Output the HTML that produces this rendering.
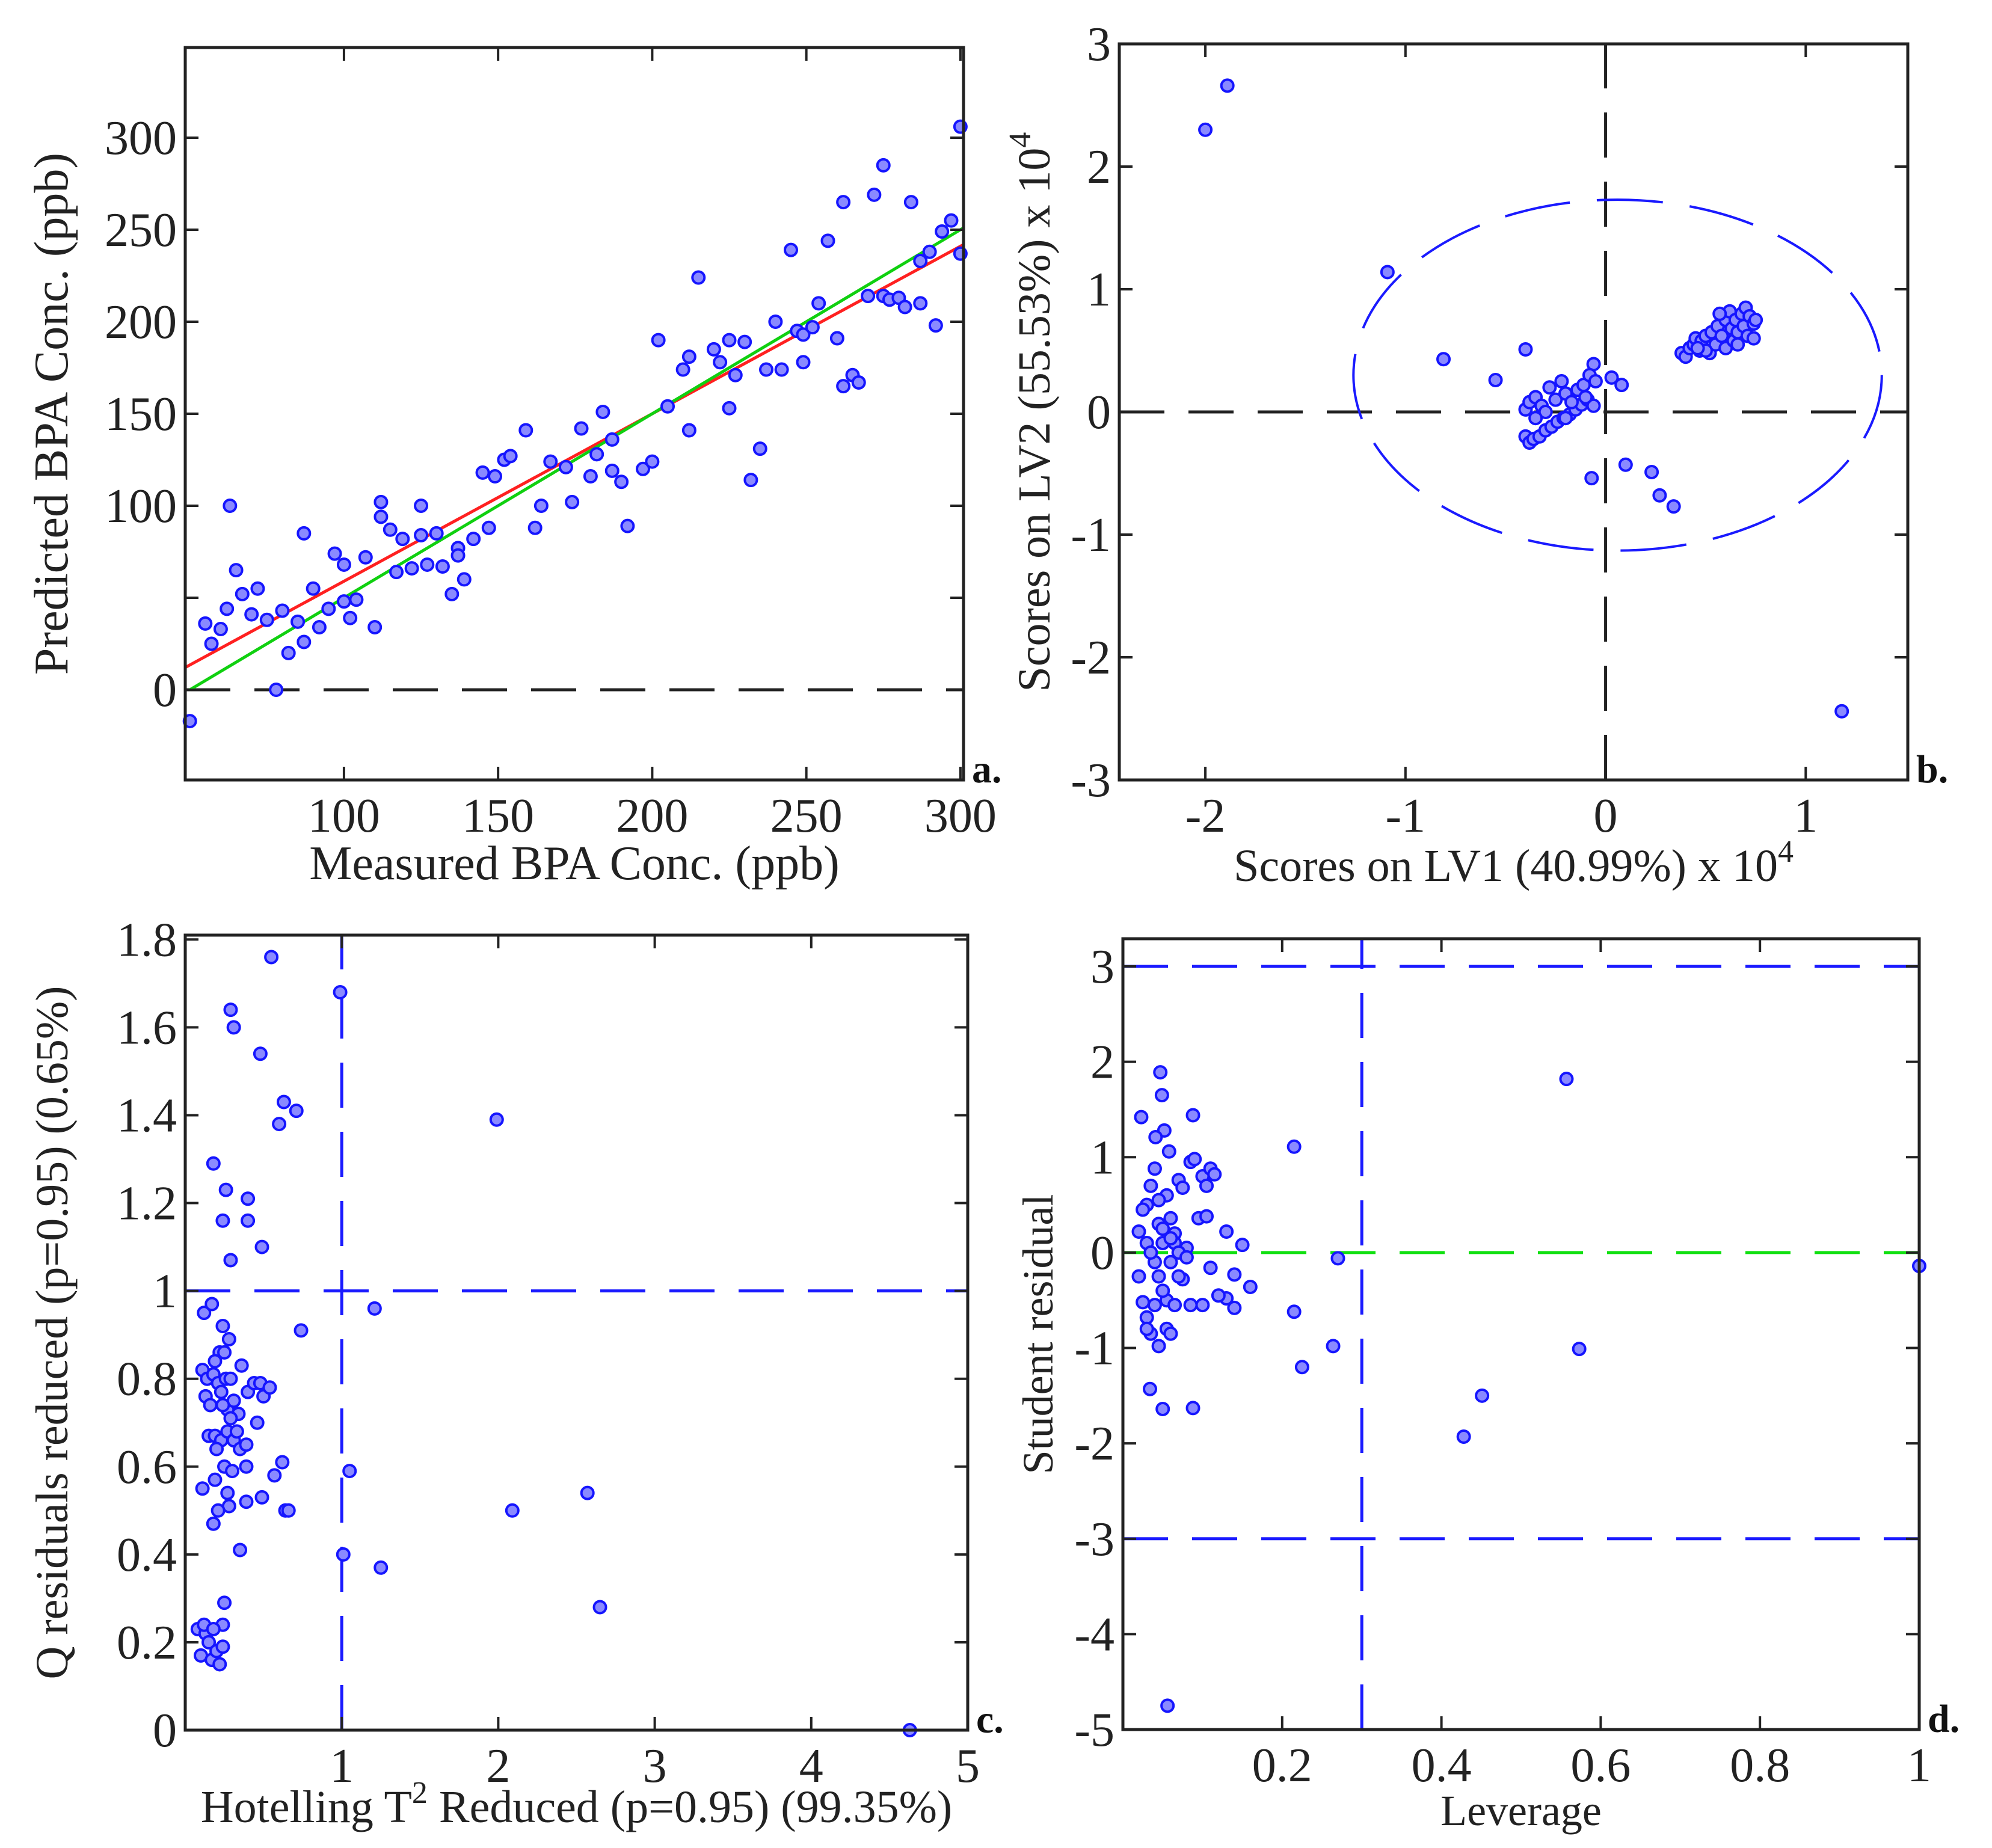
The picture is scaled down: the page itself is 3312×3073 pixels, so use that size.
<!DOCTYPE html>
<html><head><meta charset="utf-8"><style>
html,body{margin:0;padding:0;background:#fff;}
svg, svg text{font-family:"Liberation Serif","Times New Roman",serif;}
</style></head><body>
<svg id="fig" width="3312" height="3068" viewBox="0 0 3312 3068" xmlns="http://www.w3.org/2000/svg" font-family="Liberation Serif, serif"></svg>
<script>
// ---------- Panel a data ----------
const aMeasured=[55,57,60,62,63,65,67,70,72,75,78,80,82,85,87,87,90,92,95,97,100,100,102,104,107,110,112,112,115,117,119,122,125,125,127,130,132,135,137,137,139,142,145,147,149,152,154,159,162,164,167,172,174,177,180,182,184,187,187,190,192,197,200,202,205,210,212,212,215,220,222,225,225,227,230,232,235,237,240,242,245,247,249,249,252,254,257,260,262,262,265,267,270,272,275,275,277,280,282,284,287,287,290,292,294,297,300,300,50];
const aPredicted=[36,25,33,44,100,65,52,41,55,38,0,43,20,37,85,26,55,34,44,74,68,48,39,49,72,34,102,94,87,64,82,66,100,84,68,85,67,52,77,73,60,82,118,88,116,125,127,141,88,100,124,121,102,142,116,128,151,136,119,113,89,120,124,190,154,174,181,141,224,185,178,190,153,171,189,114,131,174,200,174,239,195,178,193,197,210,244,191,265,165,171,167,214,269,285,214,212,213,208,265,210,233,238,198,249,255,237,306,-17];
const aFitSlope=0.91, aFitIntercept=-32;
const aIdealSlope=1, aIdealIntercept=-50;
const aXTicks=[100,150,200,250,300];
const aYTicks=[0,50,100,150,200,250,300];
const aYTickLabels=["0","","100","150","200","250","300"];
// ---------- Panel b data ----------
const bLV1=[-2.0,-1.89,-1.09,-0.81,-0.55,-0.40,1.18,-0.07,0.10,0.23,0.27,0.34,0.03,0.08,-0.06,
-0.40,-0.38,-0.36,-0.33,-0.30,-0.27,-0.24,-0.21,-0.18,-0.15,-0.12,-0.09,-0.40,-0.38,-0.35,-0.32,-0.28,-0.25,-0.22,-0.20,-0.17,-0.14,-0.11,-0.08,-0.06,-0.30,-0.35,-0.20,-0.10,-0.05,
0.38,0.40,0.42,0.44,0.45,0.47,0.48,0.50,0.52,0.53,0.55,0.56,0.58,0.60,0.60,0.62,0.63,0.64,0.65,0.66,0.68,0.69,0.70,0.71,0.72,0.74,0.75,0.74,0.57,0.66,0.50,0.46];
const bLV2=[2.30,2.66,1.14,0.43,0.26,0.51,-2.44,-0.54,-0.43,-0.49,-0.68,-0.77,0.28,0.22,0.39,
-0.20,-0.25,-0.22,-0.20,-0.15,-0.12,-0.08,-0.05,-0.02,0.02,0.06,0.10,0.02,0.08,0.12,0.05,0.20,0.10,0.25,0.15,0.08,0.18,0.22,0.30,0.05,0.00,-0.05,-0.05,0.12,0.25,
0.48,0.45,0.52,0.55,0.60,0.50,0.58,0.62,0.48,0.65,0.55,0.70,0.62,0.75,0.52,0.82,0.68,0.58,0.75,0.65,0.80,0.70,0.85,0.62,0.78,0.72,0.75,0.60,0.80,0.55,0.50,0.52];
const bEllipse=[0.06,0.30,1.32,1.43];
const bXTicks=[-2,-1,0,1];
const bYTicks=[-3,-2,-1,0,1,2,3];
// ---------- Panel c data ----------
const cT2=[0.55,0.99,0.29,0.31,0.48,0.63,0.71,0.60,1.99,0.18,0.26,0.40,0.24,0.40,0.49,0.29,1.21,0.74,1.05,2.57,2.09,1.01,1.25,2.65,4.63,0.35,0.64,
0.08,0.10,0.13,0.15,0.17,0.20,0.22,0.24,0.24,0.25,0.12,0.18,
0.12,0.17,0.24,0.28,0.22,0.25,0.19,0.11,0.14,0.18,0.21,0.26,0.29,0.13,0.16,0.23,0.27,0.31,0.34,0.36,0.40,0.44,0.48,0.50,0.54,0.46,0.15,0.19,0.23,0.27,0.31,0.35,0.39,0.20,0.25,0.30,0.39,0.62,0.57,0.11,0.19,0.27,0.28,0.21,0.18,0.39,0.49,0.66,0.29,0.33,0.24];
const cQ=[1.76,1.68,1.64,1.60,1.54,1.43,1.41,1.38,1.39,1.29,1.23,1.21,1.16,1.16,1.10,1.07,0.96,0.91,0.59,0.54,0.50,0.40,0.37,0.28,0.0,0.41,0.50,
0.23,0.17,0.22,0.20,0.16,0.18,0.15,0.19,0.24,0.29,0.24,0.23,
0.95,0.97,0.92,0.89,0.86,0.86,0.84,0.82,0.80,0.81,0.79,0.80,0.80,0.76,0.74,0.77,0.73,0.75,0.72,0.83,0.77,0.79,0.79,0.76,0.78,0.70,0.67,0.67,0.66,0.68,0.66,0.64,0.65,0.64,0.60,0.59,0.60,0.61,0.58,0.55,0.57,0.54,0.51,0.50,0.47,0.52,0.53,0.50,0.71,0.68,0.74];
const cLimitT2=1, cLimitQ=1;
const cXTicks=[1,2,3,4,5];
const cYTicks=[0,0.2,0.4,0.6,0.8,1,1.2,1.4,1.6,1.8];
const cYTickLabels=["0","0.2","0.4","0.6","0.8","1","1.2","1.4","1.6","1.8"];
// ---------- Panel d data ----------
const dLeverage=[0.047,0.049,0.023,0.088,0.052,0.041,0.058,0.215,0.557,0.27,1.0,0.215,0.264,0.225,0.573,0.451,0.428,0.034,0.05,0.088,0.056,
0.02,0.03,0.035,0.04,0.045,0.05,0.055,0.06,0.065,0.07,0.075,0.08,0.085,0.09,0.095,0.10,0.105,0.11,0.115,0.105,0.13,0.15,0.11,0.14,0.16,0.13,0.14,0.12,0.10,0.085,0.075,0.07,0.065,0.06,0.055,0.05,0.045,0.04,0.035,0.03,0.025,0.02,0.03,0.045,0.055,0.06,0.065,0.03,0.04,0.05,0.035,0.06,0.07,0.08,0.025,0.045];
const dResidual=[1.89,1.65,1.42,1.44,1.28,1.21,1.06,1.11,1.82,-0.06,-0.14,-0.62,-0.98,-1.20,-1.01,-1.50,-1.93,-1.43,-1.64,-1.63,-4.75,
0.22,0.50,0.70,0.88,0.30,0.10,0.60,0.36,0.20,0.76,0.68,0.05,0.95,0.98,0.36,0.80,0.70,0.88,0.82,0.38,0.22,0.08,-0.16,-0.23,-0.36,-0.48,-0.58,-0.45,-0.55,-0.55,-0.28,-0.25,0.10,-0.10,-0.50,-0.40,-0.25,-0.55,-0.85,-0.68,-0.52,-0.25,-0.80,-0.98,-0.80,-0.85,-0.55,0.10,-0.10,0.25,0.0,0.15,0.0,-0.05,0.45,0.55];
const dLimitLev=0.3, dLimitRes=[3,-3];
const dXTicks=[0.2,0.4,0.6,0.8,1];
const dXTickLabels=["0.2","0.4","0.6","0.8","1"];
const dYTicks=[-5,-4,-3,-2,-1,0,1,2,3];

const NS="http://www.w3.org/2000/svg";
const svg=document.getElementById('fig');
const FONT="Liberation Serif, Times New Roman, serif";
function mk(tag,attrs,parent){const e=document.createElementNS(NS,tag);for(const k in attrs)e.setAttribute(k,attrs[k]);if(tag==='text')e.setAttribute('font-family',FONT);(parent||svg).appendChild(e);return e;}
function scale(d0,d1,p0,p1){return v=>p0+(v-d0)/(d1-d0)*(p1-p0);}

function panel(name,box,xd,yd){
  const g=mk('g',{});
  
  
  const X=scale(xd[0],xd[1],box.l,box.r), Y=scale(yd[0],yd[1],box.b,box.t);
  return {g,X,Y,box};
}
function frame(P,xt,xl,yt,yl,label){
  const {g,X,Y,box}=P;
  const r=mk('rect',{x:box.l,y:box.t,width:box.r-box.l,height:box.b-box.t,fill:'none',stroke:'#222','stroke-width':5},g);
  
  
  xt.forEach((v,i)=>{
    const x=X(v);
    const t1=mk('line',{x1:x,x2:x,y1:box.b,y2:box.b-22,stroke:'#222','stroke-width':4},g);
    
    
    const t2=mk('line',{x1:x,x2:x,y1:box.t,y2:box.t+22,stroke:'#222','stroke-width':4},g);
    
    
    const tx=mk('text',{x:x,y:box.b+86,'font-size':80,'text-anchor':'middle',fill:'#222'},g);
    tx.textContent=xl[i];
    
    
  });
  yt.forEach((v,i)=>{
    const y=Y(v);
    const t1=mk('line',{x1:box.l,x2:box.l+22,y1:y,y2:y,stroke:'#222','stroke-width':4},g);
    
    
    const t2=mk('line',{x1:box.r,x2:box.r-22,y1:y,y2:y,stroke:'#222','stroke-width':4},g);
    
    
    const tx=mk('text',{x:box.l-14,y:y+27,'font-size':80,'text-anchor':'end',fill:'#222'},g);
    tx.textContent=yl[i];
    
    
  });
  const pl=mk('text',{x:box.r+14,y:box.b+4,'font-size':66,'font-weight':'bold',fill:'#111'},g);
  pl.textContent=label;
  
  
}
function dline(P,x1,y1,x2,y2,color,name,dash){
  const l=mk('line',{x1:P.X(x1),y1:P.Y(y1),x2:P.X(x2),y2:P.Y(y2),stroke:color,'stroke-width':5,'stroke-dasharray':dash||'none'},P.g);
  
  
}
function points(P,xs,ys,name){
  xs.forEach((v,i)=>{
    const c=mk('circle',{cx:P.X(v),cy:P.Y(ys[i]),r:10,fill:'#8a8aff',stroke:'#1515ff','stroke-width':4},P.g);
    
    
  });
}
function title(P,xText,yText,xy,yx,fs){
  const {g,box}=P;
  const t=mk('text',{x:(box.l+box.r)/2,y:xy,'font-size':fs||80,'text-anchor':'middle',fill:'#222'},g);
  t.innerHTML=xText;
  
  
  const cy=(box.t+box.b)/2;
  const u=mk('text',{x:yx,y:cy,'font-size':fs||80,'text-anchor':'middle',fill:'#222',transform:`rotate(-90 ${yx} ${cy})`},g);
  u.innerHTML=yText;
  
  
}
const DASH='75 40';

const A=panel('panel-a-prediction',{l:308,r:1602,t:79,b:1297},[48.5,301],[-49,349]);
dline(A,48.5,0,301,0,'#222','zero-line',DASH);
dline(A,48.5,aFitSlope*48.5+aFitIntercept,301,aFitSlope*301+aFitIntercept,'#ff2020','fit-line');
dline(A,50,aIdealSlope*50+aIdealIntercept,301,aIdealSlope*301+aIdealIntercept,'#10d010','ideal-line');
points(A,aMeasured,aPredicted,'sample-point');
frame(A,aXTicks,aXTicks.map(String),aYTicks,aYTickLabels,'a.');
title(A,'Measured BPA Conc. (ppb)','Predicted BPA Conc. (ppb)',1462,112);

const B=panel('panel-b-scores',{l:1861,r:3172,t:73,b:1297},[-2.43,1.51],[-3,3]);
dline(B,-2.43,0,1.51,0,'#222','lv1-zero-line',DASH);
dline(B,0,-3,0,3,'#222','lv2-zero-line',DASH);
{
  const [cx,cy,rx,ry]=bEllipse;
  const e=mk('ellipse',{cx:B.X(cx),cy:B.Y(cy),rx:B.X(cx+rx)-B.X(cx),ry:B.Y(cy)-B.Y(cy+ry),fill:'none',stroke:'#1a1aff','stroke-width':4,'stroke-dasharray':'110 45'},B.g);
  
  
}
points(B,bLV1,bLV2,'score-point');
frame(B,bXTicks,bXTicks.map(String),bYTicks,bYTicks.map(String),'b.');
title(B,'Scores on LV1 (40.99%) x 10<tspan font-size="52" dy="-32">4</tspan>','Scores on LV2 (55.53%) x 10<tspan font-size="52" dy="-32">4</tspan>',1465,1745,76);

const C=panel('panel-c-q-vs-t2',{l:308,r:1609,t:1555,b:2877},[0,5],[0,1.81]);
dline(C,0,cLimitQ,5,cLimitQ,'#1a1aff','q-limit-line',DASH);
dline(C,cLimitT2,0,cLimitT2,1.81,'#1a1aff','t2-limit-line',DASH);
points(C,cT2,cQ,'sample-point');
frame(C,cXTicks,cXTicks.map(String),cYTicks,cYTickLabels,'c.');
title(C,'Hotelling T<tspan font-size="52" dy="-32">2</tspan><tspan dy="32"> Reduced (p=0.95) (99.35%)</tspan>','Q residuals reduced (p=0.95) (0.65%)',3030,112,76);

const D=panel('panel-d-residual-vs-leverage',{l:1867,r:3191,t:1561,b:2876},[0,1],[-5,3.29]);
dLimitRes.forEach(v=>dline(D,0,v,1,v,'#1a1aff','residual-limit-line',DASH));
dline(D,dLimitLev,-5,dLimitLev,3.29,'#1a1aff','leverage-limit-line',DASH);
dline(D,0,0,1,0,'#10e010','zero-line',DASH);
points(D,dLeverage,dResidual,'sample-point');
frame(D,dXTicks,dXTickLabels,dYTicks,dYTicks.map(String),'d.');
title(D,'Leverage','Student residual',3035,1750,72);
</script>
</body></html>
